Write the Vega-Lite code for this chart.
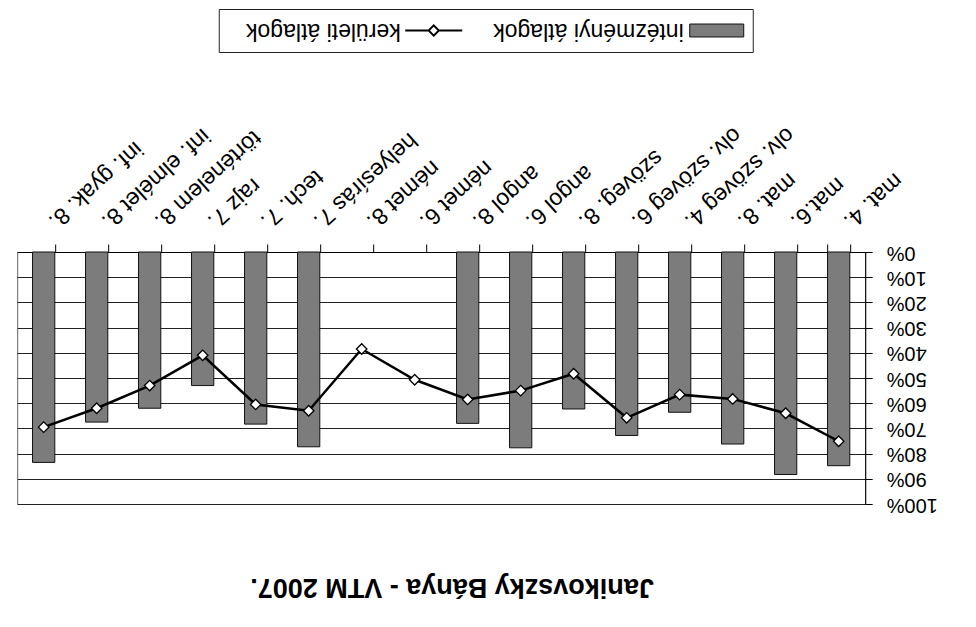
{
  "$schema": "https://vega.github.io/schema/vega-lite/v6.json",
  "background": "white",
  "padding": {"left": 1, "top": 8, "right": 5, "bottom": 5},
  "title": {
    "text": "Janikovszky Bánya - VTM 2007.",
    "orient": "bottom",
    "anchor": "middle",
    "angle": 180,
    "baseline": "bottom",
    "offset": 58,
    "dx": 26,
    "font": "Liberation Sans",
    "fontSize": 27,
    "fontWeight": "bold",
    "color": "black"
  },
  "center": true,
  "spacing": 68,
  "config": {
    "font": "Liberation Sans",
    "view": {"stroke": "#666"}
  },
  "vconcat": [
    {
      "width": 534,
      "height": 43,
      "view": {"stroke": "#222", "strokeWidth": 1},
      "data": {"values": [{"series": "intézményi átlagok"}, {"series": "kerületi átlagok"}]},
      "encoding": {
        "x": {
          "field": "series",
          "type": "nominal",
          "sort": ["kerületi átlagok", "intézményi átlagok"],
          "scale": {"type": "point", "padding": 0.4435, "align": 0.725},
          "axis": null
        }
      },
      "layer": [
        {
          "mark": {"type": "text", "angle": 180, "align": "left", "baseline": "middle", "fontSize": 23, "color": "black"},
          "encoding": {"text": {"field": "series"}}
        },
        {
          "transform": [{"filter": "datum.series === 'intézményi átlagok'"}],
          "mark": {"type": "point", "shape": "M-1,-0.24H1V0.24H-1Z", "size": 2916, "filled": true, "fill": "#7c7c7c", "stroke": "#111", "strokeWidth": 1, "opacity": 1, "xOffset": 33}
        },
        {
          "transform": [{"filter": "datum.series === 'kerületi átlagok'"}],
          "mark": {"type": "point", "shape": "M-1,0H-0.18M0.18,0H1M0,-0.18L0.18,0L0,0.18L-0.18,0Z", "size": 3249, "filled": true, "fill": "white", "stroke": "black", "strokeWidth": 2, "opacity": 1, "xOffset": 33}
        }
      ]
    },
    {
      "width": 848,
      "height": 252,
      "data": {
        "values": [
          {"subject": "mat. 4.", "inst": 0.848, "dist": 0.751},
          {"subject": "mat.6.", "inst": 0.883, "dist": 0.64},
          {"subject": "mat. 8.", "inst": 0.762, "dist": 0.583},
          {"subject": "olv. szöveg 4.", "inst": 0.636, "dist": 0.566},
          {"subject": "olv. szöveg 6.", "inst": 0.728, "dist": 0.658},
          {"subject": "szöveg. 8.", "inst": 0.623, "dist": 0.483},
          {"subject": "angol 6.", "inst": 0.777, "dist": 0.55},
          {"subject": "angol 8.", "inst": 0.68, "dist": 0.585},
          {"subject": "német 6.", "inst": null, "dist": 0.507},
          {"subject": "német 8.", "inst": null, "dist": 0.385},
          {"subject": "helyesírás 7.", "inst": 0.773, "dist": 0.63},
          {"subject": "tech. 7.", "inst": 0.683, "dist": 0.605},
          {"subject": "rajz 7.", "inst": 0.53, "dist": 0.41},
          {"subject": "történelem 8.", "inst": 0.62, "dist": 0.53},
          {"subject": "inf. elmélet 8.", "inst": 0.675, "dist": 0.62},
          {"subject": "inf. gyak. 8.", "inst": 0.835, "dist": 0.695}
        ]
      },
      "encoding": {
        "x": {
          "field": "subject",
          "type": "nominal",
          "sort": ["mat. 4.", "mat.6.", "mat. 8.", "olv. szöveg 4.", "olv. szöveg 6.", "szöveg. 8.", "angol 6.", "angol 8.", "német 6.", "német 8.", "helyesírás 7.", "tech. 7.", "rajz 7.", "történelem 8.", "inf. elmélet 8.", "inf. gyak. 8."],
          "scale": {"reverse": true, "paddingInner": 0.58, "paddingOuter": 0.29},
          "axis": {
            "orient": "top",
            "title": null,
            "labelAngle": 138,
            "labelAlign": "right",
            "labelBaseline": "top",
            "labelFontSize": 23,
            "labelColor": "black",
            "labelPadding": 12,
            "labelOffset": 15,
            "labelLimit": 400,
            "labelOverlap": false,
            "tickBand": "extent",
            "tickSize": 8,
            "tickColor": "black",
            "domainColor": "black",
            "grid": false
          }
        }
      },
      "layer": [
        {
          "mark": {"type": "bar", "fill": "#7c7c7c", "stroke": "#111", "strokeWidth": 1},
          "encoding": {
            "y": {
              "field": "inst",
              "type": "quantitative",
              "scale": {"domain": [0, 1], "reverse": true},
              "axis": {
                "orient": "right",
                "title": " ",
                "titleFontSize": 2,
                "titlePadding": 15,
                "format": ".0%",
                "values": [0, 0.1, 0.2, 0.3, 0.4, 0.5, 0.6, 0.7, 0.8, 0.9, 1],
                "labelAngle": 180,
                "labelAlign": "right",
                "labelBaseline": "middle",
                "labelFontSize": 20,
                "labelColor": "black",
                "labelPadding": 14,
                "labelOverlap": false,
                "labelFlush": false,
                "tickSize": 7,
                "tickColor": "black",
                "domainColor": "black",
                "grid": true,
                "gridColor": "#222",
                "gridWidth": 1,
                "gridOpacity": 1
              }
            }
          }
        },
        {
          "mark": {
            "type": "line",
            "color": "black",
            "strokeWidth": 2.5,
            "point": {"shape": "diamond", "filled": true, "fill": "white", "stroke": "black", "strokeWidth": 1.3, "size": 110, "opacity": 1}
          },
          "encoding": {
            "y": {
              "field": "dist",
              "type": "quantitative",
              "axis": {
                "orient": "right",
                "title": " ",
                "titleFontSize": 2,
                "titlePadding": 15,
                "format": ".0%",
                "values": [0, 0.1, 0.2, 0.3, 0.4, 0.5, 0.6, 0.7, 0.8, 0.9, 1],
                "labelAngle": 180,
                "labelAlign": "right",
                "labelBaseline": "middle",
                "labelFontSize": 20,
                "labelColor": "black",
                "labelPadding": 14,
                "labelOverlap": false,
                "labelFlush": false,
                "tickSize": 7,
                "tickColor": "black",
                "domainColor": "black",
                "grid": true,
                "gridColor": "#222",
                "gridWidth": 1,
                "gridOpacity": 1
              }
            }
          }
        }
      ]
    }
  ]
}
